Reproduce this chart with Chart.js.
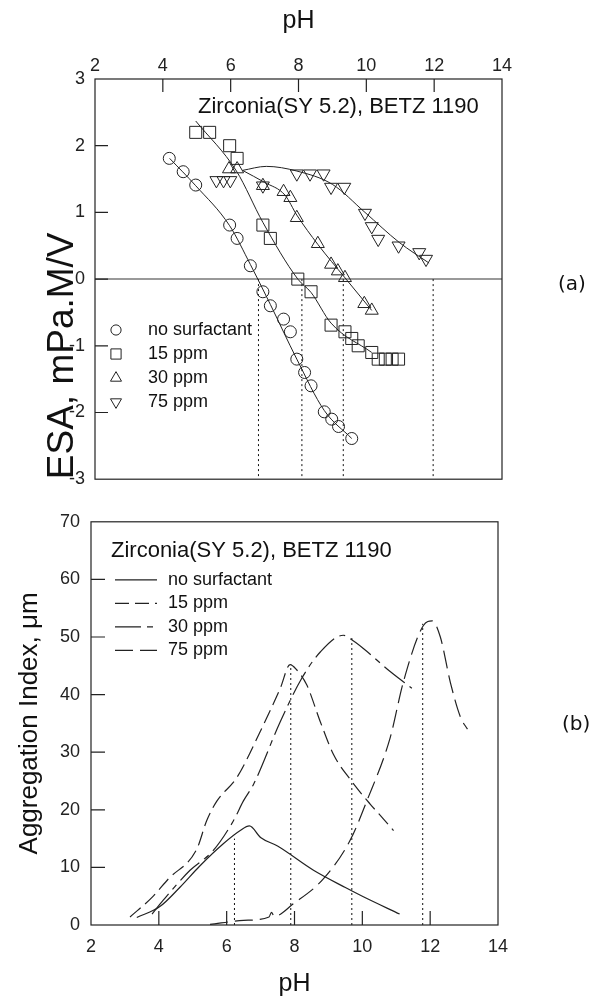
<!DOCTYPE html>
<html>
<head>
<meta charset="utf-8">
<script src="https://cdn.jsdelivr.net/npm/chart.js@4.4.0/dist/chart.umd.min.js"></script>
<style>
  body { margin: 0; background: #fff; }
  .panel { position: absolute; left: 0; }
</style>
</head>
<body>
<div class="panel" style="top:0"><canvas id="esaChart" width="591" height="500"></canvas></div>
<div class="panel" style="top:500px"><canvas id="aggChart" width="591" height="503"></canvas></div>
<script>
// axes
const phTicks = [2, 4, 6, 8, 10, 12, 14];
const esaTicks = [-3, -2, -1, 0, 1, 2, 3];
const aggTicks = [0, 10, 20, 30, 40, 50, 60, 70];
const seriesNames = ["no surfactant", "15 ppm", "30 ppm", "75 ppm"];

// (a) ESA measured points [pH, ESA]
const esaNone = [[4.19, 1.81], [4.6, 1.61], [4.97, 1.41], [5.97, 0.81], [6.19, 0.61], [6.58, 0.2],
  [6.95, -0.19], [7.17, -0.4], [7.56, -0.6], [7.76, -0.79], [7.95, -1.2], [8.18, -1.4],
  [8.37, -1.6], [8.76, -1.99], [8.98, -2.1], [9.18, -2.21], [9.57, -2.39]];
const esa15 = [[4.97, 2.2], [5.38, 2.2], [5.97, 2.0], [6.19, 1.81], [6.95, 0.81], [7.17, 0.61],
  [7.98, 0.0], [8.37, -0.19], [8.96, -0.69], [9.37, -0.79], [9.57, -0.89], [9.76, -1.0],
  [10.16, -1.1], [10.35, -1.2], [10.56, -1.2], [10.76, -1.2], [10.95, -1.2]];
const esa30 = [[5.95, 1.65], [6.19, 1.65], [6.95, 1.4], [7.56, 1.31], [7.76, 1.22], [7.95, 0.92],
  [8.57, 0.53], [8.96, 0.22], [9.16, 0.12], [9.37, 0.02], [9.94, -0.37], [10.16, -0.47]];
const esa75 = [[5.58, 1.48], [5.79, 1.48], [5.99, 1.48], [6.95, 1.4], [7.95, 1.58], [8.34, 1.58],
  [8.74, 1.58], [8.96, 1.38], [9.35, 1.38], [9.96, 0.99], [10.16, 0.79], [10.35, 0.6],
  [10.95, 0.5], [11.56, 0.4], [11.76, 0.3]];

// (a) fitted curves
const fitNone = [[4.2, 1.81], [4.97, 1.4], [5.97, 0.8], [6.58, 0.22], [6.8, 0.0], [7.17, -0.38],
  [7.95, -1.2], [8.76, -1.97], [9.57, -2.39]];
const fit15 = [[4.97, 2.37], [6.17, 1.62], [6.95, 0.85], [7.98, 0.0], [8.37, -0.2], [8.96, -0.66], [10.16, -1.1]];
const fit30 = [[6.35, 1.63], [7.0, 1.45], [7.6, 1.26], [7.95, 0.96], [8.57, 0.52], [9.37, 0.02], [10.16, -0.47]];
const fit75 = [[6.35, 1.63], [7.05, 1.69], [7.95, 1.62], [9.0, 1.42], [9.96, 1.0], [10.97, 0.55], [11.85, 0.24]];

// (a) isoelectric points (dotted)
const iepPH = [6.82, 8.1, 9.32, 11.97];

// (b) aggregation index curves [pH, index]
const aggNone = [[3.35, 1.3], [4.03, 3.2], [4.63, 6.6], [5.2, 10.2], [5.9, 14.1], [6.4, 16.4],
  [6.67, 17.2], [7.0, 15.2], [7.5, 13.7], [8.56, 9.5], [9.5, 6.5], [10.03, 4.9], [11.1, 1.9]];
const agg15 = [[3.15, 1.4], [3.8, 4.8], [4.28, 8.0], [5.12, 13.2], [5.41, 18.1], [5.71, 21.5],
  [6.3, 25.6], [6.99, 33.6], [7.58, 41.1], [7.87, 45.2], [8.05, 44.4], [8.36, 41.7],
  [8.76, 35.3], [9.15, 29.6], [9.64, 25.3], [10.23, 21.0], [10.58, 18.7], [10.92, 16.4]];
const agg30 = [[3.8, 1.9], [4.13, 4.3], [4.92, 9.5], [5.6, 12.9], [6.2, 18.1], [6.49, 21.5],
  [6.79, 24.4], [7.58, 35.3], [8.21, 42.8], [8.76, 47.4], [9.44, 50.3], [9.64, 49.7],
  [10.03, 48.0], [10.82, 44.0], [11.46, 41.1]];
const agg75 = [[5.51, 0.1], [6.5, 0.8], [7.25, 1.4], [7.32, 2.2], [7.4, 1.5], [7.97, 3.7],
  [8.85, 8.0], [9.64, 14.7], [10.13, 21.5], [10.82, 32.5], [11.21, 42.2], [11.8, 52.0],
  [12.06, 52.8], [12.3, 50.0], [12.6, 42.0], [12.9, 36.0], [13.1, 34.0]];

// (b) peak positions (dotted)
const aggPeaks = [[6.23, 15.0], [7.89, 45.2], [9.69, 50.0], [11.78, 52.3]];

const FONT = '"Liberation Sans", Arial, sans-serif';
const INK = "#222";

function pts(arr) {
  return arr.map((p) => ({ x: p[0], y: p[1] }));
}

function marks(name, data, style, radius, rot) {
  return {
    label: name, data: pts(data), showLine: false,
    pointStyle: style, pointRadius: radius, pointRotation: rot || 0,
    pointBorderColor: INK, pointBackgroundColor: "rgba(0,0,0,0)", pointBorderWidth: 1,
    legendSym: true,
  };
}

function curve(data, dash, width) {
  return {
    data: pts(data), showLine: true, pointRadius: 0, borderColor: INK,
    borderWidth: width || 1, borderDash: dash || [], tension: 0.4,
    cubicInterpolationMode: "monotone",
  };
}

function drop(x, y0, y1) {
  return {
    data: [{ x: x, y: y0 }, { x: x, y: y1 }], showLine: true, pointRadius: 0,
    borderColor: "#111", borderWidth: 1, borderDash: [2, 3],
  };
}

// box, inward ticks, note, legend, panel label
const frame = {
  id: "frame",
  beforeDatasetsDraw(chart, args, o) {
    if (o.zeroLine === undefined) return;
    const { ctx, chartArea: a, scales } = chart;
    const py = scales.y.getPixelForValue(o.zeroLine);
    ctx.save();
    ctx.strokeStyle = "#777";
    ctx.lineWidth = 1.5;
    ctx.beginPath();
    ctx.moveTo(a.left, py);
    ctx.lineTo(a.right, py);
    ctx.stroke();
    ctx.restore();
  },
  afterDatasetsDraw(chart, args, o) {
    const { ctx, chartArea: a, scales } = chart;
    const x = scales.x, y = scales.y;
    ctx.save();
    ctx.strokeStyle = INK;
    ctx.lineWidth = 1.2;
    ctx.strokeRect(a.left, a.top, a.right - a.left, a.bottom - a.top);

    ctx.beginPath();
    x.ticks.forEach((t) => {
      if (t.value <= x.min || t.value >= x.max) return;
      const px = x.getPixelForValue(t.value);
      if (o.xTicksAt === "top") {
        ctx.moveTo(px, a.top); ctx.lineTo(px, a.top + o.tickLen);
      } else {
        ctx.moveTo(px, a.bottom); ctx.lineTo(px, a.bottom - o.tickLen);
      }
    });
    y.ticks.forEach((t) => {
      if (t.value <= y.min || t.value >= y.max) return;
      const py = y.getPixelForValue(t.value);
      ctx.moveTo(a.left, py); ctx.lineTo(a.left + o.tickLen, py);
    });
    ctx.stroke();

    ctx.fillStyle = "#111";
    ctx.textAlign = "left";
    ctx.textBaseline = "middle";
    ctx.font = "22px " + FONT;
    ctx.fillText(o.note, a.left + o.noteX, a.top + o.noteY);

    // legend
    ctx.font = "18px " + FONT;
    const lg = o.legend;
    const sets = chart.data.datasets.filter((d) => d.label);
    sets.forEach((d, i) => {
      const ly = a.top + lg.y + i * lg.dy;
      ctx.strokeStyle = INK;
      ctx.lineWidth = 1;
      if (d.legendSym) {
        ctx.fillStyle = "rgba(0,0,0,0)";
        Chart.helpers.drawPoint(ctx, {
          pointStyle: d.pointStyle, rotation: d.pointRotation,
          radius: d.pointRadius * 0.85, borderWidth: 1,
        }, a.left + lg.x, ly);
      } else {
        ctx.lineWidth = d.borderWidth;
        ctx.setLineDash(d.borderDash || []);
        ctx.beginPath();
        ctx.moveTo(a.left + lg.x, ly);
        ctx.lineTo(a.left + lg.x2, ly);
        ctx.stroke();
        ctx.setLineDash([]);
      }
      ctx.fillStyle = "#111";
      ctx.fillText(d.label, a.left + lg.textX, ly);
    });

    ctx.font = '20px "DejaVu Sans", sans-serif';
    ctx.fillText(o.panel, o.panelX, o.panelY);
    ctx.restore();
  },
};

function tickList(list) {
  return (s) => { s.ticks = list.map((v) => ({ value: v })); };
}

const tickFont = { family: FONT, size: 18 };

// (a) ESA chart
new Chart(document.getElementById("esaChart"), {
  type: "scatter",
  data: {
    datasets: [
      marks(seriesNames[0], esaNone, "circle", 6),
      marks(seriesNames[1], esa15, "rect", 8.5),
      marks(seriesNames[2], esa30, "triangle", 7.5),
      marks(seriesNames[3], esa75, "triangle", 7.5, 180),
      curve(fitNone), curve(fit15), curve(fit30), curve(fit75),
      ...iepPH.map((v) => drop(v, 0, -3)),
    ],
  },
  options: {
    responsive: false,
    animation: false,
    layout: { padding: { left: 0, top: 0, right: 89, bottom: 14 } },
    plugins: {
      legend: { display: false },
      tooltip: { enabled: false },
      frame: {
        zeroLine: 0, xTicksAt: "top", tickLen: 13,
        note: "Zirconia(SY 5.2), BETZ 1190", noteX: 103, noteY: 28,
        legend: { x: 21, y: 251, dy: 24, textX: 53 },
        panel: "(a)", panelX: 558, panelY: 285,
      },
    },
    scales: {
      x: {
        type: "linear", position: "top", min: 2, max: 14,
        afterBuildTicks: tickList(phTicks),
        afterFit: (s) => { s.height = 79; },
        grid: { display: false, drawTicks: false },
        border: { display: false },
        ticks: { color: INK, font: tickFont, padding: 2 },
        title: { display: true, text: "pH", color: "#111",
          font: { family: FONT, size: 25, lineHeight: 1 }, padding: { top: 9, bottom: 0 } },
      },
      y: {
        type: "linear", min: -3, max: 3,
        afterBuildTicks: tickList(esaTicks),
        afterFit: (s) => { s.width = 95; },
        grid: { display: false, drawTicks: false },
        border: { display: false },
        ticks: { color: INK, font: tickFont, padding: 10 },
        title: { display: true, text: "ESA, mPa.M/V", color: "#111", align: "start",
          font: { family: FONT, size: 37, lineHeight: 1 }, padding: { top: 44, bottom: 0 } },
      },
    },
  },
  plugins: [frame],
});

// (b) aggregation index chart
new Chart(document.getElementById("aggChart"), {
  type: "scatter",
  data: {
    datasets: [
      Object.assign(curve(aggNone, [], 1.2), { label: seriesNames[0] }),
      Object.assign(curve(agg15, [14, 6], 1.2), { label: seriesNames[1] }),
      Object.assign(curve(agg30, [26, 6, 6, 6], 1.2), { label: seriesNames[2] }),
      Object.assign(curve(agg75, [18, 7], 1.2), { label: seriesNames[3] }),
      ...aggPeaks.map((p) => drop(p[0], 0, p[1])),
    ],
  },
  options: {
    responsive: false,
    animation: false,
    layout: { padding: { left: 0, top: 19, right: 93, bottom: 0 } },
    plugins: {
      legend: { display: false },
      tooltip: { enabled: false },
      frame: {
        xTicksAt: "bottom", tickLen: 14,
        note: "Zirconia(SY 5.2), BETZ 1190", noteX: 20, noteY: 29,
        legend: { x: 24, x2: 66, y: 58, dy: 23.5, textX: 77 },
        panel: "(b)", panelX: 562, panelY: 225,
      },
    },
    scales: {
      x: {
        type: "linear", position: "bottom", min: 2, max: 14,
        afterBuildTicks: tickList(phTicks),
        afterFit: (s) => { s.height = 78; },
        grid: { display: false, drawTicks: false },
        border: { display: false },
        ticks: { color: INK, font: tickFont, padding: 11 },
        title: { display: true, text: "pH", color: "#111",
          font: { family: FONT, size: 25, lineHeight: 1 }, padding: { top: 0, bottom: 6 } },
      },
      y: {
        type: "linear", min: 0, max: 70,
        afterBuildTicks: tickList(aggTicks),
        afterFit: (s) => { s.width = 91; },
        grid: { display: false, drawTicks: false },
        border: { display: false },
        ticks: { color: INK, font: tickFont, padding: 11 },
        title: { display: true, text: "Aggregation Index, \u03bcm", color: "#111",
          font: { family: FONT, size: 26, lineHeight: 1 }, padding: { top: 17, bottom: 0 } },
      },
    },
  },
  plugins: [frame],
});
</script>
</body>
</html>
